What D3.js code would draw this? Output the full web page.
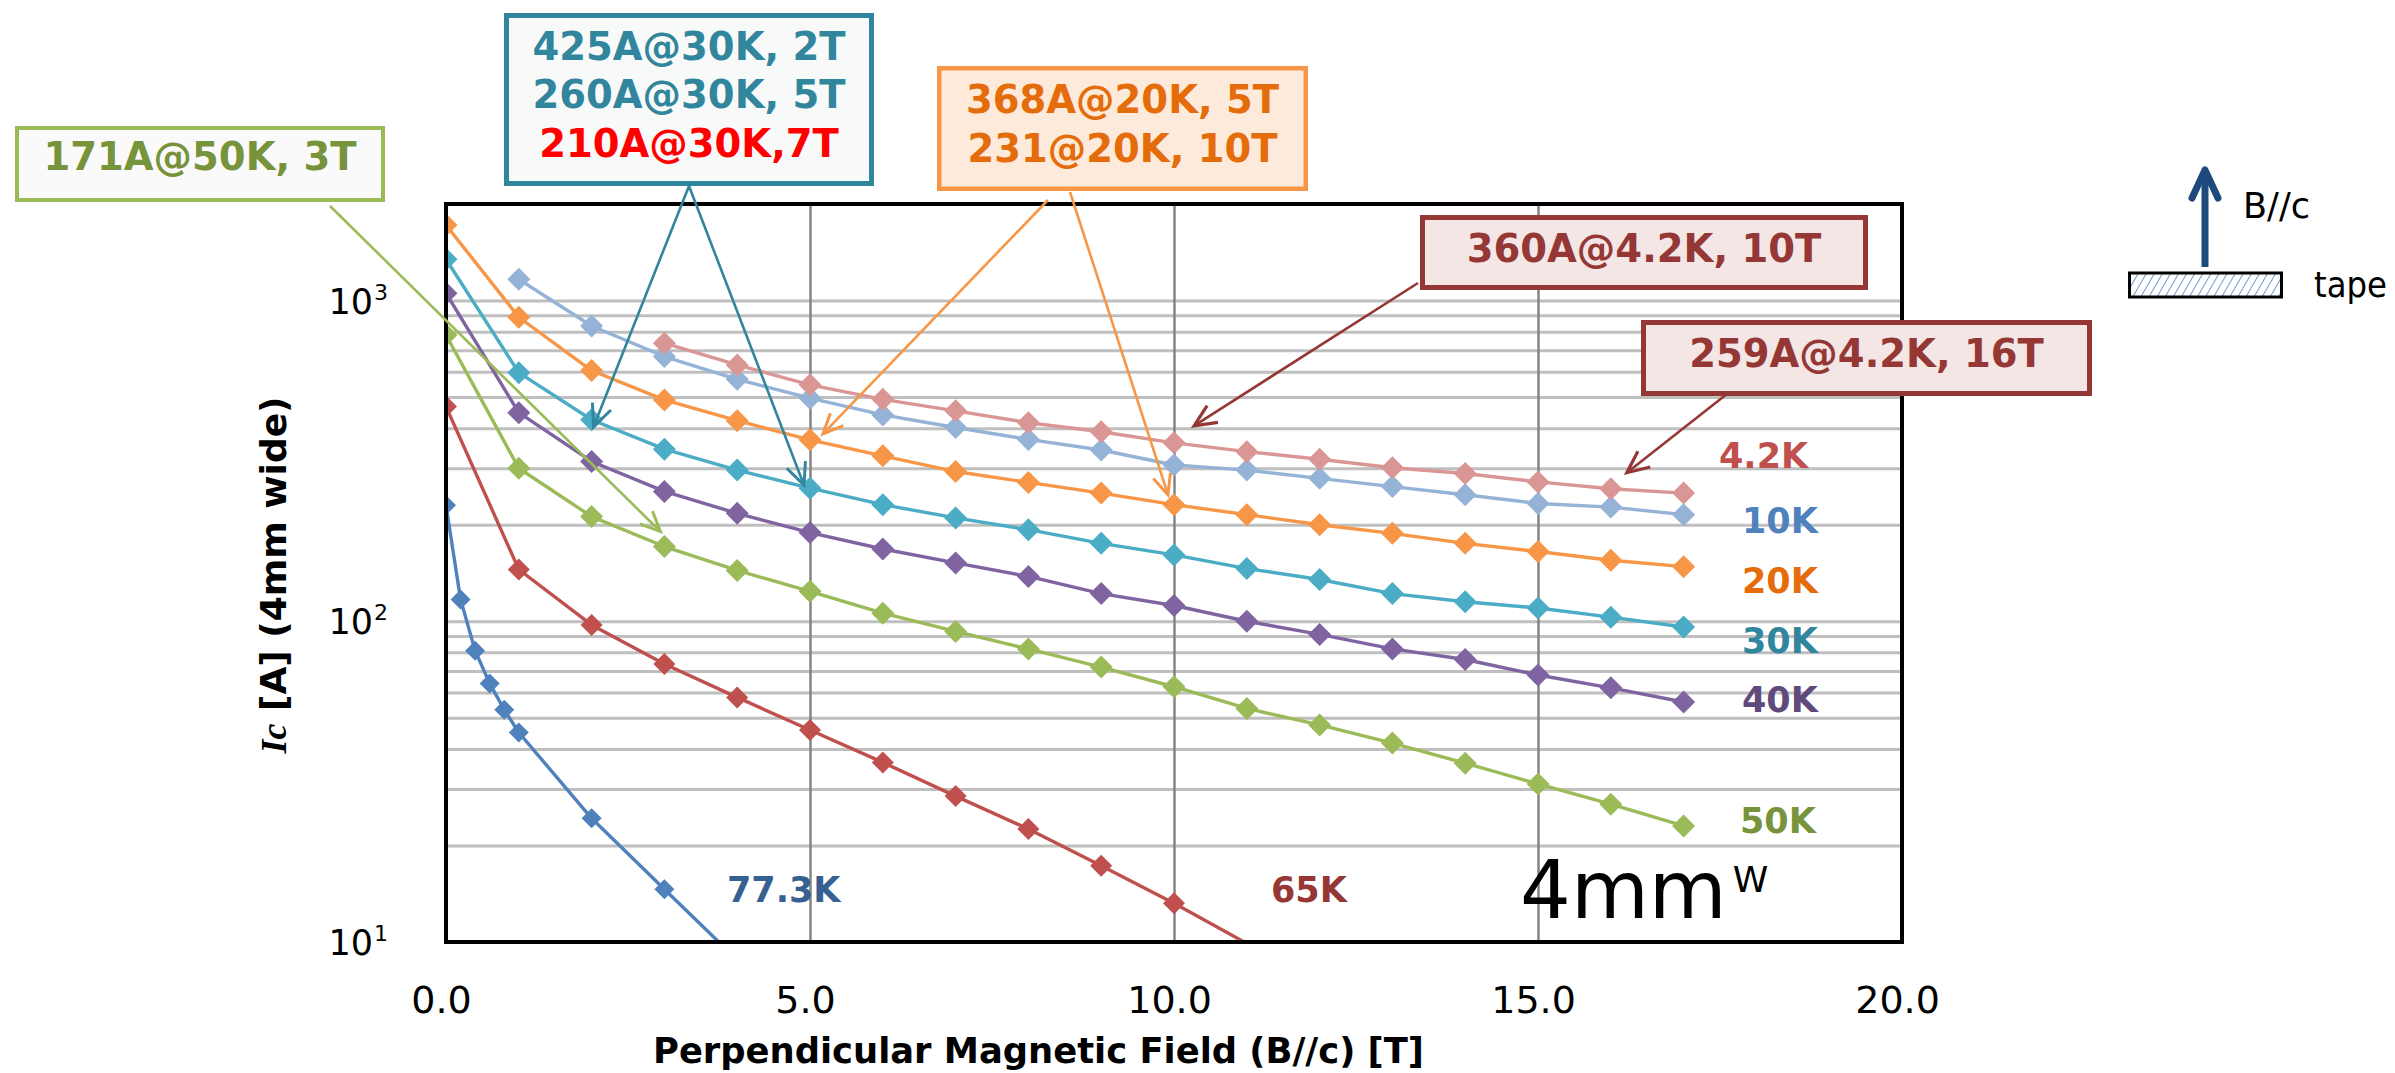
<!DOCTYPE html>
<html>
<head>
<meta charset="utf-8">
<script src="https://cdn.jsdelivr.net/npm/d3@7/dist/d3.min.js"></script>
<style>
  html, body { margin: 0; padding: 0; background: #ffffff; }
  svg { display: block; }
</style>
</head>
<body>
<svg id="chart" width="2395" height="1073"></svg>
<script>
// ---- Data: critical current Ic [A] of a 4 mm wide tape vs perpendicular field B [T] ----
const field_4_2K = [3, 4, 5, 6, 7, 8, 9, 10, 11, 12, 13, 14, 15, 16, 17];
const ic_4_2K    = [736, 630, 546, 492, 453, 416, 390, 360, 338, 320, 301, 289, 272, 259, 251];

const field_10K  = [1, 2, 3, 4, 5, 6, 7, 8, 9, 10, 11, 12, 13, 14, 15, 16, 17];
const ic_10K     = [1165, 833, 669, 568, 496, 440, 402, 369, 342, 307, 296, 279, 263, 248, 233, 227, 215];

const field_20K  = [0, 1, 2, 3, 4, 5, 6, 7, 8, 9, 10, 11, 12, 13, 14, 15, 16, 17];
const ic_20K     = [1720, 887, 605, 490, 422, 368, 328, 293, 271, 251, 231, 215, 200, 188, 175, 165, 155, 148];

const field_30K  = [0, 1, 2, 3, 4, 5, 6, 7, 8, 9, 10, 11, 12, 13, 14, 15, 16, 17];
const ic_30K     = [1345, 596, 425, 344, 296, 260, 231, 210, 193, 175, 161, 146, 135, 122, 115, 110, 103, 96];

const field_40K  = [0, 1, 2, 3, 4, 5, 6, 7, 8, 9, 10, 11, 12, 13, 14, 15, 16, 17];
const ic_40K     = [1054, 447, 315, 254, 217, 189, 168, 152, 138, 122, 112, 100, 91, 82, 76, 68, 62, 56];

const field_50K  = [0, 1, 2, 3, 4, 5, 6, 7, 8, 9, 10, 11, 12, 13, 14, 15, 16, 17];
const ic_50K     = [781, 300, 212, 171, 144, 124, 106, 93, 82, 72, 62.5, 53.5, 47.5, 41.7, 36.1, 31.1, 26.9, 23];

const field_65K  = [0, 1, 2, 3, 4, 5, 6, 7, 8, 9, 10, 11];
const ic_65K     = [467, 145, 97.4, 73.6, 57.9, 45.8, 36.3, 28.5, 22.5, 17.3, 13.2, 9.9];

const field_77K  = [0, 0.2, 0.4, 0.6, 0.8, 1, 2, 3, 4];
const ic_77K     = [230, 117, 81, 64, 53, 45, 24.3, 14.6, 8.8];

const seriesNames = ["77.3K", "65K", "50K", "40K", "30K", "20K", "10K", "4.2K"];

// Axis ticks
const xTicks = [0, 5, 10, 15, 20];
const xGridTicks = [5, 10, 15];
const yTicks = [10, 100, 1000];
const yExponents = ["1", "2", "3"];

// Annotation texts
const noteGreen  = ["171A@50K, 3T"];
const noteTeal   = ["425A@30K, 2T", "260A@30K, 5T", "210A@30K,7T"];
const noteOrange = ["368A@20K, 5T", "231@20K, 10T"];
const note4K10T  = ["360A@4.2K, 10T"];
const note4K16T  = ["259A@4.2K, 16T"];

// ---- Layout & styles ----
const SANS = "'DejaVu Sans', Verdana, sans-serif";
const plot = { left: 446, right: 1902, top: 204, bottom: 942 };

const seriesData = {
  "4.2K":  { field: field_4_2K, ic: ic_4_2K },
  "10K":   { field: field_10K,  ic: ic_10K },
  "20K":   { field: field_20K,  ic: ic_20K },
  "30K":   { field: field_30K,  ic: ic_30K },
  "40K":   { field: field_40K,  ic: ic_40K },
  "50K":   { field: field_50K,  ic: ic_50K },
  "65K":   { field: field_65K,  ic: ic_65K },
  "77.3K": { field: field_77K,  ic: ic_77K }
};

const seriesStyle = {
  "4.2K":  { line: "#D99694", label: "#C0504D", lx: 1719, ly: 468, r: 11.5 },
  "10K":   { line: "#95B3D7", label: "#4F81BD", lx: 1742, ly: 533, r: 11.5 },
  "20K":   { line: "#F79646", label: "#E46C0A", lx: 1742, ly: 593, r: 11.5 },
  "30K":   { line: "#4BACC6", label: "#31859C", lx: 1742, ly: 653, r: 11.5 },
  "40K":   { line: "#8064A2", label: "#604A7B", lx: 1742, ly: 712, r: 11.5 },
  "50K":   { line: "#9BBB59", label: "#77933C", lx: 1740, ly: 833, r: 11.5 },
  "65K":   { line: "#C0504D", label: "#953735", lx: 1271, ly: 902, r: 11 },
  "77.3K": { line: "#4F81BD", label: "#376092", lx: 727,  ly: 902, r: 10 }
};

const svg = d3.select("#chart");
svg.append("rect").attr("width", 2395).attr("height", 1073).attr("fill", "#ffffff");

const x = d3.scaleLinear().domain([0, 20]).range([plot.left, plot.right]);
const y = d3.scaleLog().domain([10, 2000]).range([plot.bottom, plot.top]);

const defs = svg.append("defs");
defs.append("clipPath").attr("id", "plotClip")
  .append("rect")
  .attr("x", plot.left).attr("y", plot.top)
  .attr("width", plot.right - plot.left).attr("height", plot.bottom - plot.top);

// open arrowheads for leader lines
function arrowMarker(id, color, len, half, sw) {
  defs.append("marker")
    .attr("id", id)
    .attr("markerUnits", "userSpaceOnUse")
    .attr("viewBox", `${-len - 4} ${-half - 4} ${len + 8} ${2 * half + 8}`)
    .attr("markerWidth", len + 8).attr("markerHeight", 2 * half + 8)
    .attr("refX", 0).attr("refY", 0)
    .attr("orient", "auto")
    .append("path")
    .attr("d", `M${-len},${-half} L0,0 L${-len},${half}`)
    .attr("fill", "none").attr("stroke", color)
    .attr("stroke-width", sw).attr("stroke-linejoin", "miter");
}
arrowMarker("arGreen", "#9BBB59", 20, 9, 3);
arrowMarker("arTeal", "#31859C", 22, 10, 3);
arrowMarker("arOrange", "#F79646", 20, 9, 3);
arrowMarker("arRed", "#953735", 22, 10, 3.2);

// hatch for the tape sketch
defs.append("pattern")
  .attr("id", "hatch").attr("patternUnits", "userSpaceOnUse")
  .attr("width", 7).attr("height", 7)
  .attr("patternTransform", "rotate(30)")
  .append("line")
  .attr("x1", 0).attr("y1", 0).attr("x2", 0).attr("y2", 7)
  .attr("stroke", "#4F81BD").attr("stroke-width", 1.6);

// ---- Gridlines ----
const yGridValues = y.ticks().filter(v => v > 10 && v < 2000);
const gGridY = svg.append("g")
  .attr("transform", `translate(${plot.left},0)`)
  .call(d3.axisLeft(y).tickValues(yGridValues).tickSize(-(plot.right - plot.left)).tickFormat(""));
gGridY.select(".domain").remove();
gGridY.selectAll("line").attr("stroke", "#BFBFBF").attr("stroke-width", 3);

const gGridX = svg.append("g")
  .attr("transform", `translate(0,${plot.bottom})`)
  .call(d3.axisBottom(x).tickValues(xGridTicks).tickSize(-(plot.bottom - plot.top)).tickFormat(""));
gGridX.select(".domain").remove();
gGridX.selectAll("line").attr("stroke", "#808080").attr("stroke-width", 2.4);

// ---- Series ----
const line = d3.line().x(d => x(d.b)).y(d => y(d.ic));
const gSeries = svg.append("g").attr("clip-path", "url(#plotClip)");

seriesNames.forEach(name => {
  const s = seriesData[name];
  const st = seriesStyle[name];
  const pts = s.field.map((b, i) => ({ b: b, ic: s.ic[i] }));
  gSeries.append("path")
    .datum(pts)
    .attr("d", line)
    .attr("fill", "none")
    .attr("stroke", st.line)
    .attr("stroke-width", 3.4)
    .attr("stroke-linejoin", "round");
  const side = st.r * Math.SQRT2;
  gSeries.selectAll(null)
    .data(pts.filter(d => d.ic >= 10))
    .join("path")
    .attr("d", d3.symbol(d3.symbolSquare, side * side)())
    .attr("transform", d => `translate(${x(d.b)},${y(d.ic)}) rotate(45)`)
    .attr("fill", st.line);
});

// series labels
seriesNames.forEach(name => {
  const st = seriesStyle[name];
  svg.append("text")
    .attr("x", st.lx).attr("y", st.ly)
    .attr("font-family", SANS).attr("font-weight", "bold")
    .attr("font-size", 35)
    .attr("fill", st.label)
    .text(name);
});

// "4mm^W"
const t4 = svg.append("text")
  .attr("x", 1520).attr("y", 918)
  .attr("font-family", SANS).attr("font-size", 80).attr("fill", "#000");
t4.append("tspan").text("4mm");
t4.append("tspan").attr("font-size", 36).attr("dx", 6).attr("dy", -26).text("W");

// ---- Plot frame ----
svg.append("rect")
  .attr("x", plot.left).attr("y", plot.top)
  .attr("width", plot.right - plot.left).attr("height", plot.bottom - plot.top)
  .attr("fill", "none").attr("stroke", "#000").attr("stroke-width", 4);

// ---- Axes ----
const gx = svg.append("g")
  .attr("transform", `translate(0,1013)`)
  .call(d3.axisBottom(x).tickValues(xTicks).tickSize(0).tickFormat(d3.format(".1f")));
gx.select(".domain").remove();
gx.selectAll(".tick text")
  .attr("y", 0).attr("dy", 0).attr("dx", -5)
  .attr("font-family", SANS).attr("font-size", 38).attr("fill", "#000");

const gy = svg.append("g")
  .attr("transform", `translate(388,0)`)
  .call(d3.axisLeft(y).tickValues(yTicks).tickSize(0).tickFormat(""));
gy.select(".domain").remove();
gy.selectAll(".tick text").remove();
gy.selectAll(".tick").each(function(d, i) {
  const t = d3.select(this).append("text")
    .attr("x", 0).attr("y", 12.7)
    .attr("text-anchor", "end")
    .attr("font-family", SANS).attr("font-size", 35).attr("fill", "#000");
  t.append("tspan").text("10");
  t.append("tspan").attr("font-size", 22).attr("dx", 1).attr("dy", -14).text(yExponents[i]);
});

// axis titles
svg.append("text")
  .attr("x", 653).attr("y", 1063)
  .attr("font-family", SANS).attr("font-weight", "bold").attr("font-size", 35)
  .attr("textLength", 771).attr("lengthAdjust", "spacingAndGlyphs")
  .attr("fill", "#000")
  .text("Perpendicular Magnetic Field (B//c) [T]");

const yt = svg.append("text")
  .attr("transform", "translate(286,575) rotate(-90)")
  .attr("text-anchor", "middle")
  .attr("font-weight", "bold").attr("font-size", 36).attr("fill", "#000");
yt.append("tspan").attr("font-family", "'Liberation Serif', 'Times New Roman', serif")
  .attr("font-style", "italic").text("Ic");
yt.append("tspan").attr("font-family", SANS).text(" [A] (4mm wide)");

// ---- Leader arrows (tip placed next to the annotated point) ----
function leader(x0, y0, b, ic, dx, dy, color, marker) {
  svg.append("line")
    .attr("x1", x0).attr("y1", y0)
    .attr("x2", x(b) + dx).attr("y2", y(ic) + dy)
    .attr("stroke", color).attr("stroke-width", 2.6)
    .attr("marker-end", `url(#${marker})`);
}
leader(330, 206, field_50K[3], ic_50K[3], -4, -15, "#9BBB59", "arGreen");
leader(689, 186, field_30K[2], ic_30K[2], 2, 7, "#31859C", "arTeal");
leader(689, 186, field_30K[5], ic_30K[5], -6, -3, "#31859C", "arTeal");
leader(1048, 200, field_20K[5], ic_20K[5], 13, -6, "#F79646", "arOrange");
leader(1070, 192, field_20K[10], ic_20K[10], -6, -10, "#F79646", "arOrange");
leader(1418, 283, field_4_2K[7], ic_4_2K[7], 20, -17, "#953735", "arRed");
leader(1732, 390, field_4_2K[13], ic_4_2K[13], 16, -16, "#953735", "arRed");

// ---- Annotation boxes ----
function noteBox(x0, y0, x1, y1, sw, stroke, fill, lines, colors, baselines) {
  svg.append("rect")
    .attr("x", x0 + sw / 2).attr("y", y0 + sw / 2)
    .attr("width", x1 - x0 - sw).attr("height", y1 - y0 - sw)
    .attr("fill", fill).attr("stroke", stroke).attr("stroke-width", sw);
  lines.forEach((txt, i) => {
    svg.append("text")
      .attr("x", (x0 + x1) / 2).attr("y", baselines[i])
      .attr("text-anchor", "middle")
      .attr("font-family", SANS).attr("font-weight", "bold").attr("font-size", 38.5)
      .attr("fill", colors[i])
      .text(txt);
  });
}
noteBox(15, 126, 385, 202, 4, "#9BBB59", "#FAFAFA", noteGreen, ["#77933C"], [170]);
noteBox(504, 13, 874, 186, 5, "#31859C", "#F8F9F9", noteTeal,
        ["#31859C", "#31859C", "#FF0000"], [59.5, 108, 156.5]);
noteBox(937, 66, 1308, 191, 4.5, "#F79646", "#FDEADA", noteOrange,
        ["#E46C0A", "#E46C0A"], [113, 161.5]);
noteBox(1420, 215, 1868, 290, 5, "#953735", "#F3E6E5", note4K10T, ["#953735"], [261.5]);
noteBox(1641, 320, 2092, 396, 5, "#953735", "#F3E6E5", note4K16T, ["#953735"], [367]);

// ---- Field-direction sketch ----
const gTape = svg.append("g");
gTape.append("line")
  .attr("x1", 2205).attr("y1", 267).attr("x2", 2205).attr("y2", 171)
  .attr("stroke", "#1F497D").attr("stroke-width", 7);
gTape.append("path")
  .attr("d", "M2192,198 L2205,170 L2218,198")
  .attr("fill", "none").attr("stroke", "#1F497D").attr("stroke-width", 7)
  .attr("stroke-linecap", "round").attr("stroke-linejoin", "round");
gTape.append("rect")
  .attr("x", 2129.5).attr("y", 273).attr("width", 152).attr("height", 24)
  .attr("fill", "url(#hatch)").attr("stroke", "#000").attr("stroke-width", 3);
gTape.append("text")
  .attr("x", 2243).attr("y", 218)
  .attr("font-family", SANS).attr("font-size", 36)
  .attr("textLength", 67).attr("lengthAdjust", "spacingAndGlyphs")
  .attr("fill", "#000").text("B//c");
gTape.append("text")
  .attr("x", 2314).attr("y", 297)
  .attr("font-family", SANS).attr("font-size", 35)
  .attr("textLength", 73).attr("lengthAdjust", "spacingAndGlyphs")
  .attr("fill", "#000").text("tape");
</script>
</body>
</html>
